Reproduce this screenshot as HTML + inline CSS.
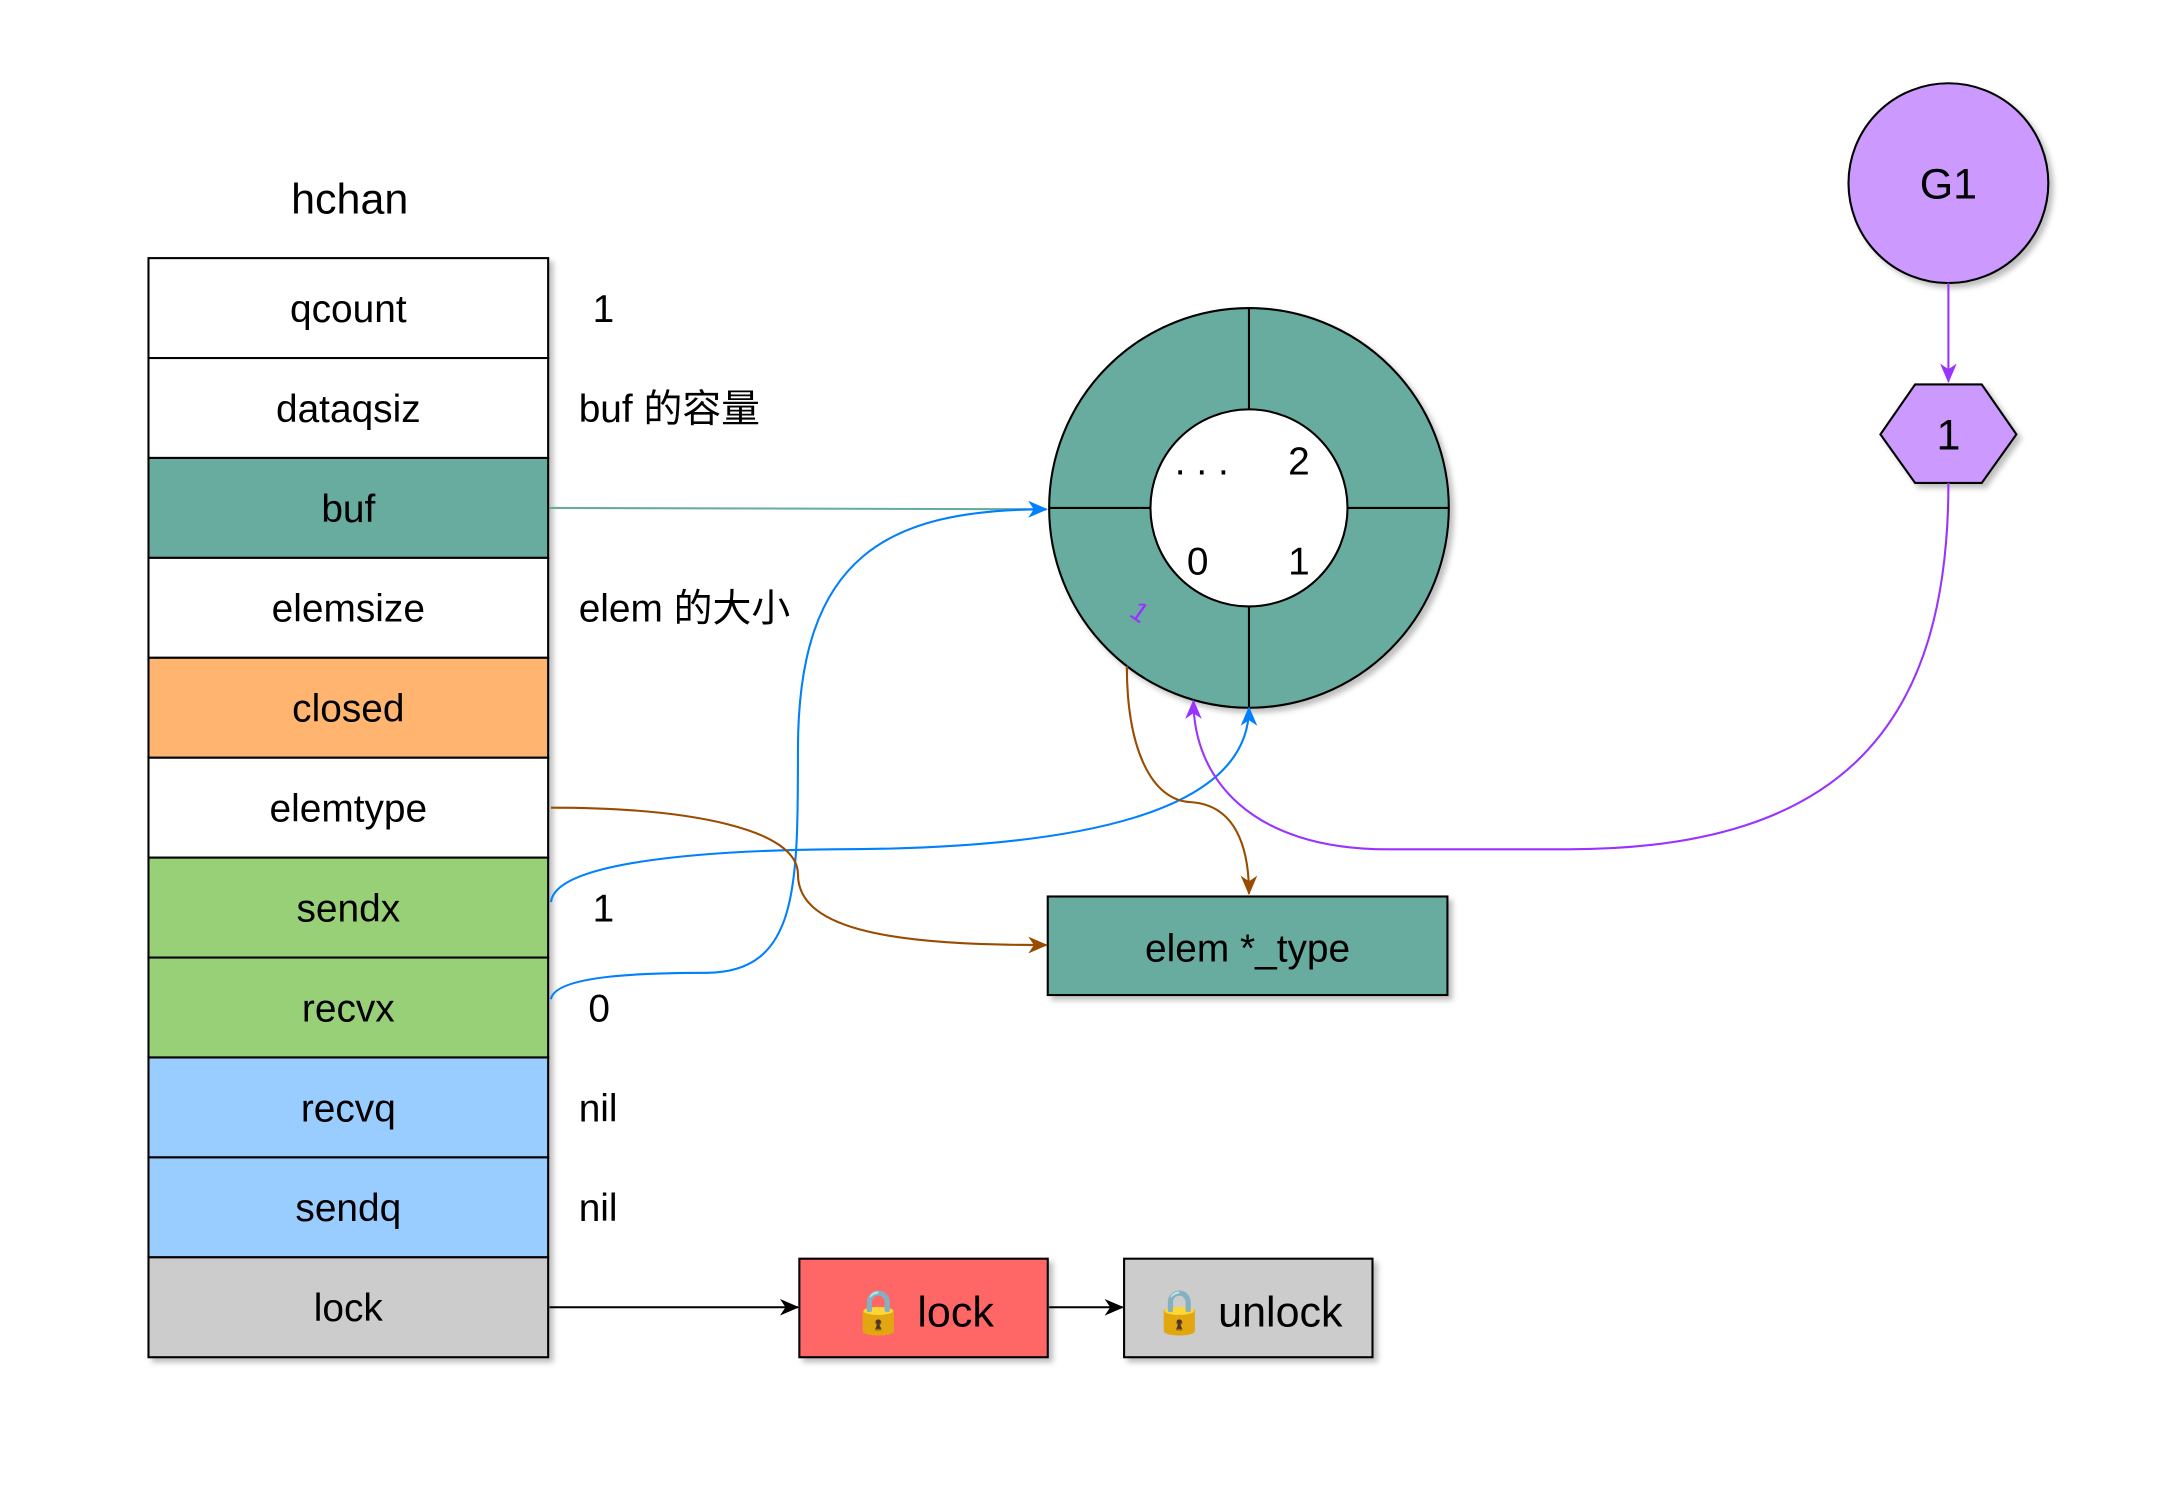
<!DOCTYPE html>
<html><head><meta charset="utf-8"><style>
html,body{margin:0;padding:0;background:#fff;}
svg text{font-family:"Liberation Sans","Noto Sans CJK SC",sans-serif;}
</style></head><body>
<svg width="2176" height="1496" viewBox="0 0 1568 1078" xmlns="http://www.w3.org/2000/svg">
<defs>
<filter id="sh" x="-20%" y="-20%" width="140%" height="140%"><feDropShadow dx="3" dy="3" stdDeviation="2" flood-color="#000" flood-opacity="0.25"/></filter>
<marker id="ab" markerWidth="14" markerHeight="14" refX="13" refY="7" orient="auto" markerUnits="userSpaceOnUse"><path d="M0,1 L14,7 L0,13 L4,7z" fill="#007FFF"/></marker>
<marker id="ak" markerWidth="14" markerHeight="14" refX="13" refY="7" orient="auto" markerUnits="userSpaceOnUse"><path d="M0,1 L14,7 L0,13 L4,7z" fill="#000"/></marker>
<marker id="ao" markerWidth="14" markerHeight="14" refX="13" refY="7" orient="auto" markerUnits="userSpaceOnUse"><path d="M0,1 L14,7 L0,13 L4,7z" fill="#994C00"/></marker>
<marker id="ap" markerWidth="14" markerHeight="14" refX="13" refY="7" orient="auto" markerUnits="userSpaceOnUse"><path d="M0,1 L14,7 L0,13 L4,7z" fill="#9933FF"/></marker>
</defs>
<text x="252" y="154" font-size="31" text-anchor="middle">hchan</text>
<g stroke="#000" stroke-width="1.5" filter="url(#sh)">
<rect x="107" y="186" width="288" height="72" fill="#fff"/>
<rect x="107" y="258" width="288" height="72" fill="#fff"/>
<rect x="107" y="330" width="288" height="72" fill="#67AB9F"/>
<rect x="107" y="402" width="288" height="72" fill="#fff"/>
<rect x="107" y="474" width="288" height="72" fill="#FFB570"/>
<rect x="107" y="546" width="288" height="72" fill="#fff"/>
<rect x="107" y="618" width="288" height="72" fill="#97D077"/>
<rect x="107" y="690" width="288" height="72" fill="#97D077"/>
<rect x="107" y="762" width="288" height="72" fill="#99CCFF"/>
<rect x="107" y="834" width="288" height="72" fill="#99CCFF"/>
<rect x="107" y="906" width="288" height="72" fill="#CCCCCC"/>
</g>
<g font-size="28" text-anchor="middle">
<text x="251" y="232">qcount</text><text x="251" y="304">dataqsiz</text><text x="251" y="376">buf</text>
<text x="251" y="448">elemsize</text><text x="251" y="520">closed</text><text x="251" y="592">elemtype</text>
<text x="251" y="664">sendx</text><text x="251" y="736">recvx</text><text x="251" y="808">recvq</text>
<text x="251" y="880">sendq</text><text x="251" y="952">lock</text>
</g>
<g font-size="28">
<text x="427" y="232">1</text><text x="417" y="304">buf 的容量</text><text x="417" y="448">elem 的大小</text>
<text x="427" y="664">1</text><text x="424" y="736">0</text><text x="417" y="808">nil</text><text x="417" y="880">nil</text>
</g>
<g filter="url(#sh)"><circle cx="900" cy="366" r="144" fill="#67AB9F" stroke="#000" stroke-width="1.5"/></g>
<circle cx="900" cy="366" r="71" fill="#fff" stroke="#000" stroke-width="1.5"/>
<g stroke="#000" stroke-width="1.5"><line x1="900" y1="222" x2="900" y2="295"/><line x1="900" y1="437" x2="900" y2="510"/><line x1="756" y1="366" x2="829" y2="366"/><line x1="971" y1="366" x2="1044" y2="366"/></g>
<g font-size="28" text-anchor="middle"><text x="866" y="342">. . .</text><text x="936" y="342">2</text><text x="863" y="414">0</text><text x="936" y="414">1</text></g>
<text x="822" y="448" font-size="20" fill="#9933FF" transform="rotate(35 822 440)" text-anchor="middle">1</text>
<g filter="url(#sh)"><circle cx="1404" cy="132" r="72" fill="#CC99FF" stroke="#000" stroke-width="1.5"/>
<polygon points="1355,313 1380,277 1428,277 1453,313 1428,348 1380,348" fill="#CC99FF" stroke="#000" stroke-width="1.5"/></g>
<text x="1404" y="143" font-size="31" text-anchor="middle">G1</text>
<text x="1404" y="324" font-size="31" text-anchor="middle">1</text>
<g filter="url(#sh)"><rect x="755" y="646" width="288" height="71" fill="#67AB9F" stroke="#000" stroke-width="1.5"/>
<rect x="576" y="907" width="179" height="71" fill="#FF6666" stroke="#000" stroke-width="1.5"/>
<rect x="810" y="907" width="179" height="71" fill="#CCCCCC" stroke="#000" stroke-width="1.5"/></g>
<text x="899" y="693" font-size="28" text-anchor="middle">elem  *_type</text>
<text x="665" y="956" font-size="31" text-anchor="middle">🔒 lock</text>
<text x="899" y="956" font-size="31" text-anchor="middle">🔒 unlock</text>
<g fill="none" stroke-width="1.5">
<line x1="396" y1="366" x2="754" y2="367" stroke="#67AB9F" marker-end="url(#ab)"/>
<path d="M397,720 C400,702 470,701 510,701 C575,700 575,640 575,540 C575,400 640,367 754,367" stroke="#007FFF" marker-end="url(#ab)"/>
<path d="M397,650 C400,622 500,613 600,612 C780,612 900,585 900,510" stroke="#007FFF" marker-end="url(#ab)"/>
<path d="M397,582 C500,582 575,598 575,630 C575,672 650,681 754,681" stroke="#994C00" marker-end="url(#ao)"/>
<path d="M812,480 C812,540 830,577 858,578 C890,580 900,610 900,644" stroke="#994C00" marker-end="url(#ao)"/>
<path d="M1404,348 C1404,520 1330,612 1130,612 L1000,612 C900,612 860,560 860,505" stroke="#9933FF" marker-end="url(#ap)"/>
<line x1="1404" y1="204" x2="1404" y2="275" stroke="#9933FF" marker-end="url(#ap)"/>
<line x1="396" y1="942" x2="575" y2="942" stroke="#000" marker-end="url(#ak)"/>
<line x1="756" y1="942" x2="809" y2="942" stroke="#000" marker-end="url(#ak)"/>
</g>
</svg>
</body></html>
